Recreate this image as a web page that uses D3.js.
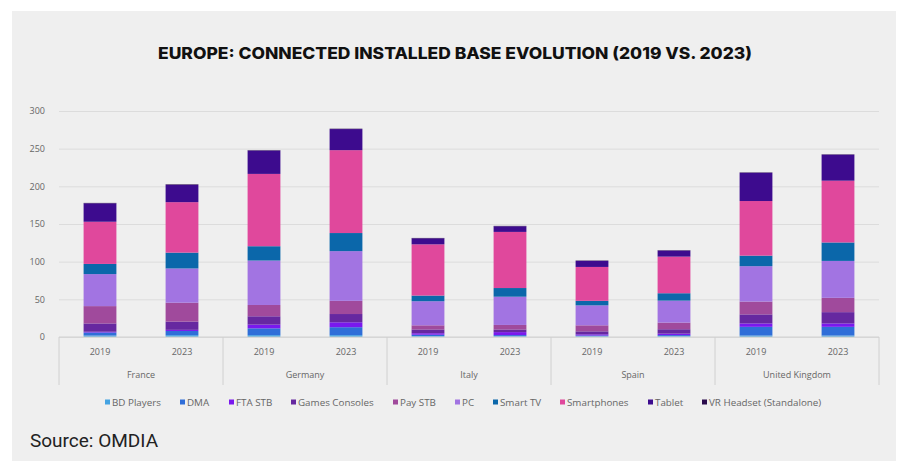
<!DOCTYPE html>
<html>
<head>
<meta charset="utf-8">
<script src="https://cdn.jsdelivr.net/npm/d3@7"></script>
<style>
  body { margin: 0; background: #fff; }
  svg { display: block; }
</style>
</head>
<body>
<div id="chart"></div>
<script>
const countries = ['France', 'Germany', 'Italy', 'Spain', 'United Kingdom']
const years = ['2019', '2023']
const series = ['BD Players', 'DMA', 'FTA STB', 'Games Consoles', 'Pay STB', 'PC', 'Smart TV', 'Smartphones', 'Tablet', 'VR Headset (Standalone)']
const colors = ['#45a3e2', '#2f6ed8', '#7a18ee', '#6628a0', '#a04a9c', '#a274e2', '#0b67aa', '#e0489c', '#3d0b8e', '#2a0b4c']
const yTicks = [0, 50, 100, 150, 200, 250, 300]

// one array per series, order: France 19/23, Germany 19/23, Italy 19/23, Spain 19/23, UK 19/23
const bdPlayers = [2, 2.5, 2.5, 2.5, 1, 1, 1, 1, 2, 2]
const dma = [4, 5.5, 9, 10.5, 2, 1.5, 1, 1.5, 11.5, 11.5]
const ftaStb = [1, 1.5, 5, 6.5, 2, 4, 1.5, 2, 4.5, 4.5]
const gamesConsoles = [11, 11, 11, 11, 5, 3.5, 4, 5.8, 12, 15]
const payStb = [23, 25, 15, 17.5, 5.5, 6, 8, 8.8, 17, 19]
const pc = [42.5, 45.5, 59, 66, 32, 37.5, 26.5, 29.2, 47, 49]
const smartTv = [13.5, 21, 19, 24, 7.5, 11.5, 6, 9.8, 14, 24.5]
const smartphones = [56, 67, 96, 110, 68, 74.5, 45, 48.6, 72.5, 82]
const tablet = [24.5, 23, 31, 28, 8, 7.5, 8, 8, 37.5, 34.5]
const vrHeadset = [0.5, 0.7, 0.5, 0.5, 0.5, 0.5, 0.5, 0.5, 0.5, 0.5]

const seriesValues = [bdPlayers, dma, ftaStb, gamesConsoles, payStb, pc, smartTv, smartphones, tablet, vrHeadset]

const W = 903, H = 461
const margin = { top: 111, left: 59, right: 24, bottom: 124 }
const width = W - margin.left - margin.right
const height = H - margin.top - margin.bottom

const svg = d3.select('#chart').append('svg').attr('width', W).attr('height', H)
svg.append('rect').attr('x', 12).attr('y', 11).attr('width', 884).attr('height', H - 11).attr('fill', '#efefef')

svg.append('text')
  .attr('x', 455).attr('y', 59)
  .attr('text-anchor', 'middle')
  .attr('font-family', 'Inter, sans-serif').attr('font-weight', 800)
  .attr('font-size', 16).attr('fill', '#111')
  .attr('textLength', 594).attr('lengthAdjust', 'spacingAndGlyphs')
  .text('EUROPE: CONNECTED INSTALLED BASE EVOLUTION (2019 VS. 2023)')

const g = svg.append('g').attr('transform', `translate(${margin.left},${margin.top})`)

// build rows
const rows = []
countries.forEach((c, i) => years.forEach((y, j) => {
  const row = { key: c + '|' + y, country: c, year: y }
  series.forEach((s, k) => { row[s] = seriesValues[k][i * 2 + j] })
  rows.push(row)
}))

const x = d3.scaleBand().domain(rows.map(d => d.key)).range([0, width]).paddingInner(0.6).paddingOuter(0.3)
const xGroup = d3.scaleBand().domain(countries).range([0, width])
const y = d3.scaleLinear().domain([0, 300]).range([height, 0])
const color = d3.scaleOrdinal().domain(series).range(colors)

// gridlines + y labels
const yAxis = g.append('g').call(d3.axisLeft(y).tickValues(yTicks).tickSize(-width).tickPadding(14))
yAxis.select('.domain').remove()
yAxis.selectAll('.tick line').attr('stroke', '#dcdcdc').attr('stroke-width', 1)
yAxis.selectAll('.tick text').attr('font-family', 'Open Sans, sans-serif').attr('font-size', 9).attr('fill', '#666')

const stacked = d3.stack().keys(series)(rows)

g.selectAll('.layer')
  .data(stacked)
  .enter().append('g')
  .attr('class', 'layer')
  .attr('fill', d => color(d.key))
  .selectAll('rect')
  .data(d => d)
  .enter().append('rect')
  .attr('x', d => x(d.data.key))
  .attr('width', x.bandwidth())
  .attr('y', d => y(d[1]))
  .attr('height', d => y(d[0]) - y(d[1]))

// x axis baseline and group separators
g.append('line').attr('x1', 0).attr('x2', width).attr('y1', height).attr('y2', height).attr('stroke', '#d0d0d0')
const seps = countries.map(c => xGroup(c)).concat([width])
g.selectAll('.sep').data(seps).enter().append('line')
  .attr('x1', d => d).attr('x2', d => d)
  .attr('y1', height).attr('y2', height + 48)
  .attr('stroke', '#d0d0d0')

g.selectAll('.year-label').data(rows).enter().append('text')
  .attr('x', d => x(d.key) + x.bandwidth() / 2)
  .attr('y', height + 18)
  .attr('text-anchor', 'middle')
  .attr('font-family', 'Open Sans, sans-serif').attr('font-size', 9).attr('fill', '#666')
  .text(d => d.year)

g.selectAll('.country-label').data(countries).enter().append('text')
  .attr('x', d => xGroup(d) + xGroup.bandwidth() / 2)
  .attr('y', height + 41)
  .attr('text-anchor', 'middle')
  .attr('font-family', 'Open Sans, sans-serif').attr('font-size', 9).attr('fill', '#666')
  .text(d => d)

// legend
const legendX = [105, 180, 229, 291, 393, 455, 493, 560, 648, 702]
const legend = svg.append('g')
series.forEach((s, i) => {
  const item = legend.append('g').attr('transform', `translate(${legendX[i]},403)`)
  item.append('rect').attr('x', 0).attr('y', -3.5).attr('width', 5).attr('height', 5).attr('fill', color(s))
  item.append('text').attr('x', 7).attr('y', 0).attr('dy', '0.35em')
    .attr('font-family', 'Open Sans, sans-serif').attr('font-size', 9.8).attr('fill', '#666')
    .text(s)
})

svg.append('text')
  .attr('x', 30).attr('y', 447)
  .attr('font-family', 'Roboto, sans-serif').attr('font-size', 19).attr('fill', '#222')
  .text('Source: OMDIA')
</script>
</body>
</html>
